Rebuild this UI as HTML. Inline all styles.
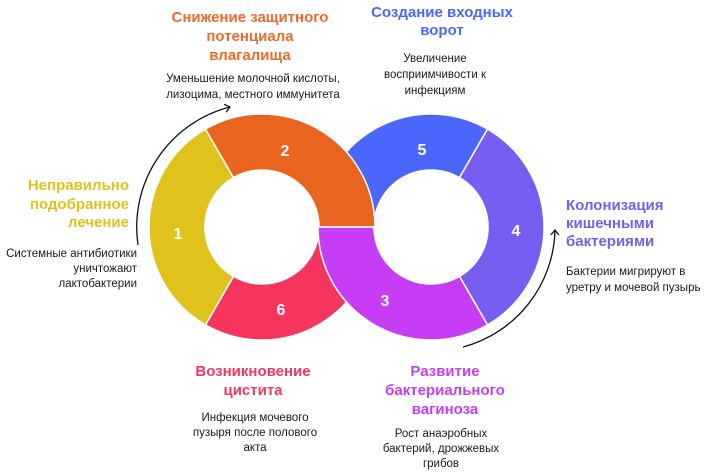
<!DOCTYPE html>
<html><head><meta charset="utf-8"><style>
html,body{margin:0;padding:0;background:#fff;}
svg{display:block;}
.t{font-family:"Liberation Sans",sans-serif;font-weight:bold;font-size:15px;}
.b{font-family:"Liberation Sans",sans-serif;font-size:11.5px;fill:#1a1a1a;}
.n{font-family:"Liberation Sans",sans-serif;font-weight:bold;font-size:16px;fill:#fff;text-anchor:middle;}
</style></head><body>
<svg width="707" height="476" viewBox="0 0 707 476" xmlns="http://www.w3.org/2000/svg">
<defs>
<marker id="ah" markerWidth="10" markerHeight="10" refX="6" refY="5" orient="auto" markerUnits="userSpaceOnUse">
<path d="M1,1 L6,5 L1,9" fill="none" stroke="#111" stroke-width="1.3"/>
</marker>
</defs>
<g stroke="#fff" stroke-width="1.5">
<!-- right ring: blue 5 (-180..-60) -->
<path d="M318,227 A113,113 0 0 1 487.5,129.1 L459.5,177.6 A57,57 0 0 0 374,227 Z" fill="#4a66fb"/>
<!-- left ring: pink 6 (0..120) -->
<path d="M375,227 A113,113 0 0 1 205.5,324.9 L233.5,276.4 A57,57 0 0 0 319,227 Z" fill="#f5355e"/>
<!-- yellow 1 (120..240) -->
<path d="M205.5,324.9 A113,113 0 0 1 205.5,129.1 L233.5,177.6 A57,57 0 0 0 233.5,276.4 Z" fill="#dfc21c"/>
<!-- orange 2 (-120..0) -->
<path d="M205.5,129.1 A113,113 0 0 1 375,227 L319,227 A57,57 0 0 0 233.5,177.6 Z" fill="#e8641f"/>
<!-- violet 4 (-60..60) -->
<path d="M487.5,129.1 A113,113 0 0 1 487.5,324.9 L459.5,276.4 A57,57 0 0 0 459.5,177.6 Z" fill="#775df0"/>
<!-- purple 3 (60..180) -->
<path d="M487.5,324.9 A113,113 0 0 1 318,227 L374,227 A57,57 0 0 0 459.5,276.4 Z" fill="#c63df5"/>
</g>
<text class="n" x="178" y="239">1</text>
<text class="n" x="285" y="156">2</text>
<text class="n" x="385" y="306">3</text>
<text class="n" x="516" y="236">4</text>
<text class="n" x="422" y="155">5</text>
<text class="n" x="281" y="315">6</text>
<!-- arrows -->
<path d="M138,245 A124,124 0 0 1 230,107" fill="none" stroke="#111" stroke-width="1.3" marker-end="url(#ah)"/>
<path d="M463,347 A124,124 0 0 0 555,230" fill="none" stroke="#111" stroke-width="1.3" marker-end="url(#ah)"/>
<!-- orange -->
<g class="t" fill="#ee6a2a" text-anchor="middle">
<text x="250" y="22">Снижение защитного</text>
<text x="250" y="41">потенциала</text>
<text x="250" y="60">влагалища</text>
</g>
<g class="b" text-anchor="middle">
<text x="253" y="82">Уменьшение молочной кислоты,</text>
<text x="253" y="98">лизоцима, местного иммунитета</text>
</g>
<!-- blue -->
<g class="t" fill="#4a66fb" text-anchor="middle">
<text x="442" y="17">Создание входных</text>
<text x="442" y="35">ворот</text>
</g>
<g class="b" text-anchor="middle">
<text x="435" y="62">Увеличение</text>
<text x="435" y="78">восприимчивости к</text>
<text x="435" y="94">инфекциям</text>
</g>
<!-- yellow -->
<g class="t" fill="#dfc21c" text-anchor="end">
<text x="129" y="190">Неправильно</text>
<text x="129" y="209">подобранное</text>
<text x="129" y="227">лечение</text>
</g>
<g class="b" text-anchor="end">
<text x="137" y="257">Системные антибиотики</text>
<text x="137" y="272">уничтожают</text>
<text x="137" y="287">лактобактерии</text>
</g>
<!-- violet -->
<g class="t" fill="#775df0" text-anchor="start">
<text x="566" y="210">Колонизация</text>
<text x="566" y="228">кишечными</text>
<text x="566" y="246">бактериями</text>
</g>
<g class="b" text-anchor="start">
<text x="566" y="275">Бактерии мигрируют в</text>
<text x="566" y="291">уретру и мочевой пузырь</text>
</g>
<!-- pink -->
<g class="t" fill="#f5355e" text-anchor="middle">
<text x="253" y="376">Возникновение</text>
<text x="253" y="395">цистита</text>
</g>
<g class="b" text-anchor="middle">
<text x="255" y="421">Инфекция мочевого</text>
<text x="255" y="436">пузыря после полового</text>
<text x="255" y="451">акта</text>
</g>
<!-- purple -->
<g class="t" fill="#c63df5" text-anchor="middle">
<text x="445" y="376">Развитие</text>
<text x="445" y="395">бактериального</text>
<text x="445" y="414">вагиноза</text>
</g>
<g class="b" text-anchor="middle">
<text x="441" y="437">Рост анаэробных</text>
<text x="441" y="452">бактерий, дрожжевых</text>
<text x="441" y="467">грибов</text>
</g>
</svg>
</body></html>
